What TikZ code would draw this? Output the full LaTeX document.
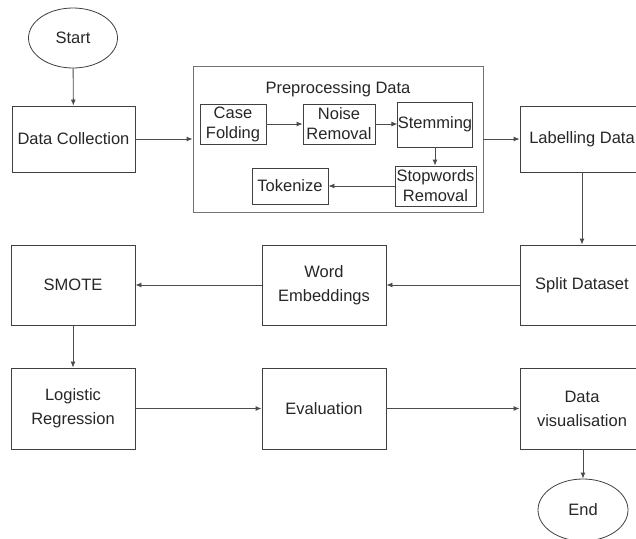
\documentclass[tikz,border=0pt]{standalone}
\usepackage{fontspec}
\setmainfont{Liberation Sans}
\usetikzlibrary{shapes.geometric,arrows.meta}
\begin{document}
\begin{tikzpicture}[x=1pt,y=-1pt,
  every node/.style={font=\fontsize{16.5}{20}\selectfont, inner sep=0pt, align=center, text=black!85},
  big/.style={font=\fontsize{16.5}{24}\selectfont},
  box/.style={draw=black!75, line width=0.9pt, rectangle},
  oval/.style={draw=black!75, line width=0.8pt, ellipse},
  frame/.style={draw=black!55, line width=0.9pt, rectangle},
  arr/.style={draw=black!70, line width=0.9pt, -{Latex[length=6pt,width=5pt]}}]
\useasboundingbox (0,0) rectangle (636,538);
% top row
\node[oval, minimum width=89, minimum height=60] (start) at (73,38) {Start};
\node[box, minimum width=123, minimum height=66] (dc) at (73.5,139) {Data Collection};
\node[frame, minimum width=290, minimum height=146] (pre) at (338,139) {};
\node (title) at (338,89) {Preprocessing Data};
\node[box, minimum width=66, minimum height=40] (cf) at (233,124) {Case\\Folding};
\node[box, minimum width=72, minimum height=40] (nr) at (339,124) {Noise\\Removal};
\node[box, minimum width=74, minimum height=45] (stem) at (435,124.5) {Stemming};
\node[box, minimum width=81, minimum height=40] (stop) at (435.5,186) {Stopwords\\Removal};
\node[box, minimum width=76, minimum height=36] (tok) at (290,186) {Tokenize};
\node[box, minimum width=124, minimum height=66] (lab) at (582,139) {Labelling Data};
% second row
\node[box, minimum width=124, minimum height=80] (split) at (582,285) {Split Dataset};
\node[box, big, minimum width=124, minimum height=80] (we) at (324,285) {Word\\Embeddings};
\node[box, minimum width=124, minimum height=80] (smote) at (73,285) {SMOTE};
% third row
\node[box, big, minimum width=124, minimum height=81] (lr) at (73,408.5) {Logistic\\Regression};
\node[box, minimum width=124, minimum height=81] (ev) at (324,408.5) {Evaluation};
\node[box, big, minimum width=124, minimum height=81] (dv) at (582,408.5) {Data\\visualisation};
\node[oval, minimum width=90, minimum height=62] (end) at (583,510) {End};
% connectors
\draw[arr] (start) -- (dc);
\draw[arr] (dc) -- (pre);
\draw[arr] (cf) -- (nr);
\draw[arr] (nr) -- (nr -| stem.west);
\draw[arr] (stem) -- (stem |- stop.north);
\draw[arr] (stop) -- (tok);
\draw[arr] (pre) -- (lab);
\draw[arr] (lab) -- (split);
\draw[arr] (split) -- (we);
\draw[arr] (we) -- (smote);
\draw[arr] (smote) -- (lr);
\draw[arr] (lr) -- (ev);
\draw[arr] (ev) -- (dv);
\draw[arr] (dv.south -| end.north) -- (end);
\end{tikzpicture}
\end{document}
